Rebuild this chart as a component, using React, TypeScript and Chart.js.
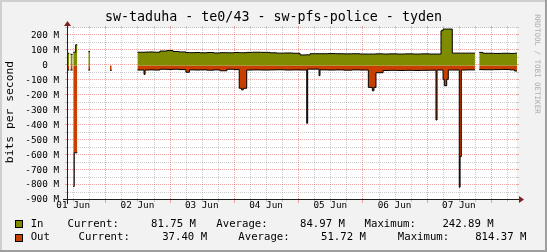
import { useEffect, useRef } from 'react';
import { Chart, registerables } from 'chart.js';

Chart.register(...registerables);

const chartTitle = 'sw-taduha - te0/43 - sw-pfs-police - tyden';
const yAxisTitle = 'bits per second';
const watermark = 'RRDTOOL / TOBI OETIKER';

const dayLabels = ['01 Jun', '02 Jun', '03 Jun', '04 Jun', '05 Jun', '06 Jun', '07 Jun'];
const dayLabelHours = [12, 36, 60, 84, 108, 132, 156];
const yTickValues = [200, 100, 0, -100, -200, -300, -400, -500, -600, -700, -800, -900];

const startHour = 9.7;
const endHour = 177.7;
const yMin = -900;
const yMax = 250;

// hours since 01 Jun 00:00
const hours = [
  9.7, 10.55, 11.0, 11.8, 12.05, 12.4, 12.95, 13.55, 17.65, 18.3, 25.75, 26.4,
  36.0, 38.45, 38.85, 40.5, 42.0, 44.4, 47.0, 49.3, 51.5, 54.1, 55.4, 57.5, 59.4,
  62.0, 64.5, 66.8, 69.4, 72.0, 74.0, 74.9, 75.5, 76.8, 79.0, 82.0, 85.5, 88.0,
  91.0, 94.0, 96.7, 99.2, 99.55, 100.4, 103.8, 104.15, 107.0, 110.0, 113.0, 116.0,
  119.0, 122.2, 123.7, 124.3, 125.05, 127.7, 130.0, 133.0, 136.0, 139.0, 142.0,
  145.0, 147.45, 147.85, 149.33, 150.1, 150.56, 151.45, 152.05, 153.54, 156.15,
  156.45, 156.9, 159.0, 162.0, 163.6, 165.0, 169.0, 172.0, 175.0, 176.8,
];

// In traffic, M bit/s
const inMbps = [
  81, null, 74, null, 88, 88, 138, null, 92, null, null, null,
  88, 88, 89, 90, 88, 96, 99, 93, 90, 86, 85, 86, 84,
  86, 83, 85, 84, 86, 85, 85, 85, 87, 88, 87, 84, 82,
  83, 81, 70, 72, 70, 78, 78, 78, 79, 78, 77, 78,
  76, 76, 76, 76, 77, 76, 77, 76, 77, 76, 77,
  76, 76, 76, 232, 243, 243, 243, 243, 82, 82,
  82, 82, 82, null, 87, 81, 80, 81, 80, 81.75,
];

// Out traffic, M bit/s (drawn below zero)
const outMbps = [
  31, null, 31, null, 810, 584, 584, null, 31, null, 33, null,
  31, 60, 31, 30, 31, 26, 27, 26, 28, 46, 30, 31, 30,
  32, 30, 36, 26, 28, 153, 164, 153, 31, 30, 31, 30, 29,
  31, 30, 31, 387, 25, 25, 69, 30, 31, 30, 32, 30,
  31, 147, 170, 147, 49, 34, 33, 34, 33, 34, 33,
  32, 365, 31, 31, 93, 136, 93, 31, 31, 814.37,
  610, 31, 30, null, 28, 29, 28, 27, 30, 37.4,
];

const seriesNames = ['In', 'Out'];
const seriesColors = ['#7F8C00', '#C84000'];
const currentValues = ['81.75 M', '37.40 M'];
const averageValues = ['84.97 M', '51.72 M'];
const maximumValues = ['242.89 M', '814.37 M'];

const MONO = '"DejaVu Sans Mono", monospace';
const W = 547;
const H = 252;

function buildPoints(values: (number | null)[], sign: number) {
  const pts: { x: number; y: number | null }[] = [];
  for (let i = 0; i < hours.length; i++) {
    const v = values[i];
    const y = v === null ? null : sign * v;
    pts.push({ x: hours[i], y });
    const last = i === hours.length - 1;
    if (y !== null && (last || values[i + 1] === null)) {
      pts.push({ x: last ? endHour : hours[i + 1], y });
    }
  }
  return pts;
}

const backdropPlugin = {
  id: 'rrdBackdrop',
  beforeDraw(chart: any) {
    const ctx = chart.ctx;
    const { left, top, right, bottom } = chart.chartArea;
    ctx.save();
    ctx.fillStyle = '#F2F2F2';
    ctx.fillRect(0, 0, W, H);
    ctx.fillStyle = '#CFCFCF';
    ctx.fillRect(0, 0, W, 2);
    ctx.fillRect(0, 0, 2, H);
    ctx.fillStyle = '#9E9E9E';
    ctx.fillRect(0, H - 2, W, 2);
    ctx.fillRect(W - 2, 0, 2, H);
    ctx.fillStyle = '#FFFFFF';
    ctx.fillRect(left, top, right - left, bottom - top);
    ctx.restore();
  },
  beforeDatasetsDraw(chart: any) {
    const ctx = chart.ctx;
    const xs = chart.scales.x;
    const ys = chart.scales.y;
    const { left, top, right, bottom } = chart.chartArea;
    const minor = 'rgba(143,143,143,0.45)';
    const major = 'rgba(222,79,79,0.5)';
    ctx.save();
    ctx.lineWidth = 1;
    const vLines: { p: number; m: boolean }[] = [];
    for (let h = Math.ceil(startHour / 6) * 6; h <= endHour; h += 6) {
      vLines.push({ p: Math.round(xs.getPixelForValue(h)) + 0.5, m: h % 24 === 0 });
    }
    const hLines: { p: number; m: boolean }[] = [];
    for (let v = yMin + 50; v <= yMax; v += 50) {
      hLines.push({ p: Math.round(ys.getPixelForValue(v)) - 0.5, m: v % 100 === 0 });
    }
    for (const pass of [false, true]) {
      ctx.strokeStyle = pass ? major : minor;
      for (const l of vLines.filter((l) => l.m === pass)) {
        ctx.setLineDash([]);
        ctx.beginPath();
        ctx.moveTo(l.p, top - 2);
        ctx.lineTo(l.p, top);
        ctx.moveTo(l.p, bottom);
        ctx.lineTo(l.p, bottom + (pass ? 3 : 2));
        ctx.stroke();
        ctx.setLineDash([1, 1]);
        ctx.beginPath();
        ctx.moveTo(l.p, bottom - 1);
        ctx.lineTo(l.p, top);
        ctx.stroke();
      }
      for (const l of hLines.filter((l) => l.m === pass)) {
        ctx.setLineDash([]);
        ctx.beginPath();
        ctx.moveTo(left - 2, l.p);
        ctx.lineTo(left, l.p);
        ctx.moveTo(right, l.p);
        ctx.lineTo(right + 2, l.p);
        ctx.stroke();
        ctx.setLineDash([1, 1]);
        ctx.beginPath();
        ctx.moveTo(left + 1, l.p);
        ctx.lineTo(right, l.p);
        ctx.stroke();
      }
    }
    ctx.restore();
  },
  afterDatasetsDraw(chart: any) {
    const ctx = chart.ctx;
    const { left, top, right, bottom } = chart.chartArea;
    const ax = Math.round(left) + 0.5;
    const ay = Math.round(bottom) - 0.5;
    ctx.save();
    ctx.strokeStyle = '#1F1F1F';
    ctx.lineWidth = 1;
    ctx.beginPath();
    ctx.moveTo(left - 4, ay);
    ctx.lineTo(right + 4, ay);
    ctx.moveTo(ax, bottom + 4);
    ctx.lineTo(ax, top - 4);
    ctx.stroke();
    ctx.fillStyle = '#801F1F';
    ctx.beginPath();
    ctx.moveTo(right + 2, ay - 3.5);
    ctx.lineTo(right + 2, ay + 3.5);
    ctx.lineTo(right + 7, ay);
    ctx.closePath();
    ctx.fill();
    ctx.beginPath();
    ctx.moveTo(ax - 3.5, top - 2);
    ctx.lineTo(ax + 3.5, top - 2);
    ctx.lineTo(ax, top - 7);
    ctx.closePath();
    ctx.fill();
    ctx.restore();
  },
  afterDraw(chart: any) {
    const ctx = chart.ctx;
    ctx.save();
    ctx.fillStyle = '#000';
    ctx.textAlign = 'center';
    ctx.textBaseline = 'alphabetic';
    ctx.font = `13.33px ${MONO}`;
    ctx.fillText(chartTitle, W / 2, 21);

    ctx.save();
    ctx.translate(10.5, 112);
    ctx.rotate(-Math.PI / 2);
    ctx.textBaseline = 'middle';
    ctx.font = `11.33px ${MONO}`;
    ctx.fillText(yAxisTitle, 0, 0);
    ctx.restore();

    ctx.save();
    ctx.translate(537, 64);
    ctx.rotate(Math.PI / 2);
    ctx.textBaseline = 'middle';
    ctx.fillStyle = '#ADADAD';
    ctx.font = `7.5px ${MONO}`;
    ctx.fillText(watermark, 0, 0);
    ctx.restore();

    const rowY = [224.3, 237.5];
    const cols = [
      [30.7, 67.5, 151, 216.3, 300, 364.6, 442.4],
      [30.7, 78.5, 162.2, 238.3, 321, 397.8, 475.2],
    ];
    ctx.textAlign = 'left';
    ctx.textBaseline = 'middle';
    ctx.font = `10.67px ${MONO}`;
    for (let r = 0; r < 2; r++) {
      const y = rowY[r];
      ctx.fillStyle = seriesColors[r];
      ctx.fillRect(15, Math.round(y) - 4, 8, 8);
      ctx.strokeStyle = '#000';
      ctx.lineWidth = 1;
      ctx.strokeRect(15.5, Math.round(y) - 3.5, 7, 7);
      ctx.fillStyle = '#000';
      const texts = [
        seriesNames[r], 'Current:', currentValues[r], 'Average:', averageValues[r],
        'Maximum:', maximumValues[r],
      ];
      texts.forEach((t, i) => ctx.fillText(t, cols[r][i], y));
    }
    ctx.restore();
  },
};

export default function App() {
  const canvasRef = useRef<HTMLCanvasElement | null>(null);

  useEffect(() => {
    const canvas = canvasRef.current;
    if (!canvas) return;
    const chart = new Chart(canvas, {
      type: 'line',
      data: {
        datasets: [
          {
            label: seriesNames[0],
            data: buildPoints(inMbps, 1) as any,
            stepped: true,
            fill: 'origin',
            backgroundColor: seriesColors[0],
            borderColor: '#000',
            borderWidth: 1,
            pointRadius: 0,
            spanGaps: false,
          },
          {
            label: seriesNames[1],
            data: buildPoints(outMbps, -1) as any,
            stepped: true,
            fill: 'origin',
            backgroundColor: seriesColors[1],
            borderColor: '#000',
            borderWidth: 1,
            pointRadius: 0,
            spanGaps: false,
          },
        ],
      },
      options: {
        animation: false,
        responsive: false,
        devicePixelRatio: 1,
        events: [],
        layout: { padding: { top: 28, right: 30, left: 0, bottom: 0 } },
        plugins: {
          legend: { display: false },
          tooltip: { enabled: false },
          title: { display: false },
        },
        scales: {
          x: {
            type: 'linear',
            min: startHour,
            max: endHour,
            grid: { display: false, drawTicks: false },
            border: { display: false },
            ticks: {
              autoSkip: false,
              maxRotation: 0,
              minRotation: 0,
              padding: 0,
              color: '#000',
              font: { family: MONO, size: 9.33 },
              callback: (_v: any, i: number) => dayLabels[i],
            },
            afterBuildTicks: (s: any) => {
              s.ticks = dayLabelHours.map((v) => ({ value: v }));
            },
            afterFit: (s: any) => {
              s.height = 52;
            },
          },
          y: {
            type: 'linear',
            min: yMin,
            max: yMax,
            grid: { display: false, drawTicks: false },
            border: { display: false },
            ticks: {
              autoSkip: false,
              padding: 8,
              color: '#000',
              font: { family: MONO, size: 9.33 },
              callback: (v: any) => (v === 0 ? '0  ' : `${v} M`),
            },
            afterBuildTicks: (s: any) => {
              s.ticks = yTickValues.map((v) => ({ value: v }));
            },
            afterFit: (s: any) => {
              s.width = 67;
            },
          },
        },
      } as any,
      plugins: [backdropPlugin],
    });
    return () => chart.destroy();
  }, []);

  return (
    <div style={{ position: 'fixed', left: 0, top: 0, width: W, height: H }}>
      <canvas ref={canvasRef} width={W} height={H} style={{ display: 'block' }} />
    </div>
  );
}
